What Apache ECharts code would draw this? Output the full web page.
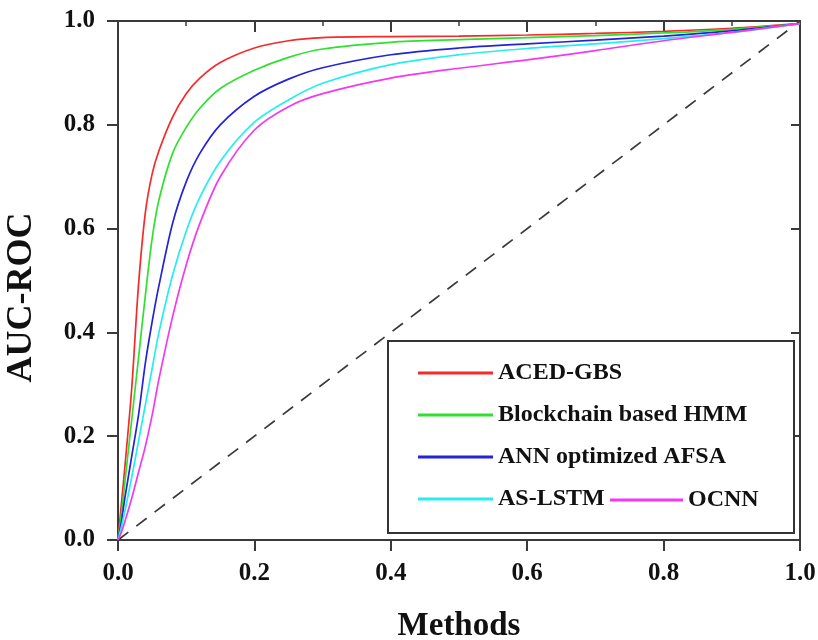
<!DOCTYPE html>
<html>
<head>
<meta charset="utf-8">
<script src="https://cdn.jsdelivr.net/npm/echarts@6/dist/echarts.min.js"></script>
<style>html,body{margin:0;padding:0;background:#fff}#c{width:818px;height:640px}</style>
</head>
<body>
<div id="c"></div>
<script>
var xValues = [0, 0.005, 0.01, 0.02, 0.03, 0.04, 0.05, 0.06, 0.08, 0.1, 0.12, 0.15, 0.2, 0.25, 0.3, 0.4, 0.5, 0.6, 0.7, 0.8, 0.9, 1.0];
var acedGbs    = [0, 0.07, 0.14, 0.29, 0.49, 0.63, 0.705, 0.75, 0.815, 0.86, 0.890, 0.920, 0.948, 0.962, 0.968, 0.970, 0.971, 0.973, 0.976, 0.980, 0.986, 0.995];
var blockchain = [0, 0.05, 0.11, 0.23, 0.35, 0.47, 0.58, 0.655, 0.745, 0.795, 0.832, 0.870, 0.905, 0.930, 0.946, 0.959, 0.964, 0.968, 0.972, 0.977, 0.984, 0.995];
var annAfsa    = [0, 0.035, 0.08, 0.16, 0.24, 0.34, 0.42, 0.49, 0.61, 0.69, 0.745, 0.80, 0.855, 0.888, 0.910, 0.935, 0.948, 0.956, 0.963, 0.971, 0.981, 0.995];
var asLstm     = [0, 0.025, 0.055, 0.12, 0.19, 0.26, 0.33, 0.40, 0.51, 0.595, 0.66, 0.73, 0.805, 0.848, 0.880, 0.916, 0.935, 0.947, 0.956, 0.966, 0.978, 0.995];
var ocnn       = [0, 0.015, 0.035, 0.08, 0.13, 0.18, 0.24, 0.31, 0.43, 0.53, 0.61, 0.70, 0.79, 0.835, 0.86, 0.89, 0.909, 0.925, 0.943, 0.962, 0.978, 0.995];
var diagX = [0, 1];
var diagY = [0, 1];
var seriesNames = ['ACED-GBS', 'Blockchain based HMM', 'ANN optimized AFSA', 'AS-LSTM', 'OCNN'];
var seriesColors = ['#f52a2a', '#2fe02f', '#2323d8', '#26eeee', '#f238f2'];
var xTicks = ['0.0', '0.2', '0.4', '0.6', '0.8', '1.0'];

var allY = [acedGbs, blockchain, annAfsa, asLstm, ocnn];
function pairs(xs, ys) { return xs.map(function (x, i) { return [x, ys[i]]; }); }

var font = '"Liberation Serif", "Times New Roman", serif';
var axisCol = '#3a3a3a';

var series = allY.map(function (ys, i) {
  return {
    name: seriesNames[i], type: 'line', data: pairs(xValues, ys), smooth: 0.3,
    showSymbol: false, symbol: 'none', xAxisIndex: 0, yAxisIndex: 0,
    lineStyle: { color: seriesColors[i], width: 1.7 }, itemStyle: { color: seriesColors[i] },
    z: 3, animation: false
  };
});
series.push({
  name: 'diag', type: 'line', data: pairs(diagX, diagY), showSymbol: false, symbol: 'none',
  lineStyle: { color: '#3a3a3a', width: 1.7, type: [13, 10] }, z: 2, animation: false
});

var legendText = { fontFamily: font, fontWeight: 'bold', fontSize: 24, color: '#111', lineHeight: 24 };

var chart = echarts.init(document.getElementById('c'), null, { renderer: 'canvas' });
chart.setOption({
  backgroundColor: '#fff',
  animation: false,
  grid: { left: 118, right: 18, top: 21, bottom: 100, containLabel: false, outerBoundsMode: 'none' },
  xAxis: [{
    type: 'value', min: 0, max: 1, interval: 0.2, position: 'bottom',
    name: 'Methods', nameLocation: 'middle', nameGap: 70,
    nameTextStyle: { fontFamily: font, fontWeight: 'bold', fontSize: 33, color: '#111' },
    axisLine: { show: true, onZero: false, lineStyle: { color: axisCol, width: 2 } },
    axisTick: { show: true, inside: false, length: 11, lineStyle: { color: axisCol, width: 2 } },
    axisLabel: { margin: 21, fontFamily: font, fontWeight: 'bold', fontSize: 25, color: '#111',
      formatter: function (v) { return xTicks[Math.round(v / 0.2)]; } },
    splitLine: { show: false }
  }, {
    type: 'value', min: 0, max: 1, interval: 0.2, position: 'top',
    axisLine: { show: true, onZero: false, lineStyle: { color: axisCol, width: 2 } },
    axisTick: { show: true, inside: true, length: 11, lineStyle: { color: axisCol, width: 2 } },
    minorTick: { show: true, splitNumber: 2, length: 5, lineStyle: { color: axisCol, width: 1.5 } },
    axisLabel: { show: false }, splitLine: { show: false }
  }],
  yAxis: [{
    type: 'value', min: 0, max: 1, interval: 0.2, position: 'left',
    name: 'AUC-ROC', nameLocation: 'middle', nameGap: 78,
    nameTextStyle: { fontFamily: font, fontWeight: 'bold', fontSize: 36, color: '#111', padding: [0, 34, 0, 0] },
    axisLine: { show: true, onZero: false, lineStyle: { color: axisCol, width: 2 } },
    axisTick: { show: true, inside: false, length: 11, lineStyle: { color: axisCol, width: 2 } },
    axisLabel: { margin: 23, fontFamily: font, fontWeight: 'bold', fontSize: 25, color: '#111',
      formatter: function (v) { return v.toFixed(1); } },
    splitLine: { show: false }
  }, {
    type: 'value', min: 0, max: 1, interval: 0.2, position: 'right',
    axisLine: { show: true, onZero: false, lineStyle: { color: axisCol, width: 2 } },
    axisTick: { show: true, inside: true, length: 9, lineStyle: { color: axisCol, width: 2 } },
    axisLabel: { show: false }, splitLine: { show: false }
  }],
  graphic: [{
    type: 'rect', left: 387, top: 340, z: 10,
    shape: { width: 406, height: 192 },
    style: { fill: '#fff', stroke: '#333', lineWidth: 2 }
  }],
  legend: [{
    orient: 'vertical', left: 418, top: 361, itemGap: 18, itemWidth: 75, itemHeight: 3,
    icon: 'rect', selectedMode: false, z: 20, padding: 0,
    data: seriesNames.slice(0, 4),
    textStyle: legendText
  }, {
    orient: 'horizontal', left: 610, top: 488, itemWidth: 73, itemHeight: 3,
    icon: 'rect', selectedMode: false, z: 20, padding: 0,
    data: seriesNames.slice(4),
    textStyle: legendText
  }],
  series: series
});
</script>
</body>
</html>
